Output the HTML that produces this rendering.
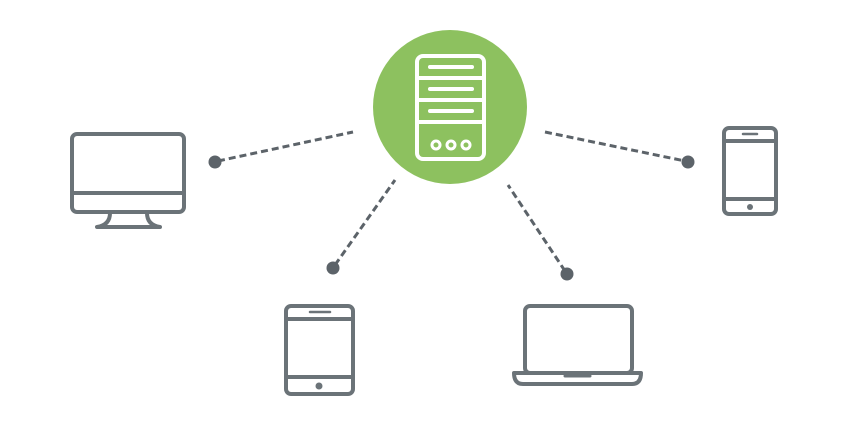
<!DOCTYPE html>
<html><head><style>body{margin:0;background:#fff}svg{display:block}</style></head><body>
<svg width="850" height="425" viewBox="0 0 850 425" xmlns="http://www.w3.org/2000/svg">
<g stroke="#5c6369" stroke-width="3" stroke-dasharray="7,4" fill="none">
<line x1="218" y1="161" x2="353" y2="132"/>
<line x1="335" y1="265" x2="395" y2="180"/>
<line x1="565" y1="271" x2="508" y2="185"/>
<line x1="545" y1="132" x2="685" y2="161"/>
</g>
<g fill="#5c6369">
<circle cx="215" cy="162" r="6.5"/><circle cx="333" cy="268" r="6.5"/>
<circle cx="567" cy="274" r="6.5"/><circle cx="688" cy="162" r="6.5"/>
</g>
<circle cx="450" cy="107" r="77" fill="#8dc15f"/>
<g stroke="#fff" stroke-width="4" fill="none" stroke-linecap="round">
<rect x="417" y="56" width="67" height="103" rx="6"/>
<line x1="419" y1="78" x2="482" y2="78"/><line x1="419" y1="100" x2="482" y2="100"/><line x1="419" y1="122" x2="482" y2="122"/>
<line x1="430" y1="67" x2="472" y2="67"/><line x1="430" y1="89" x2="472" y2="89"/><line x1="430" y1="111" x2="472" y2="111"/>
<circle cx="436" cy="145" r="4" stroke-width="3"/><circle cx="451" cy="145" r="4" stroke-width="3"/><circle cx="466" cy="145" r="4" stroke-width="3"/>
</g>
<g stroke="#6b7378" stroke-width="4" fill="none" stroke-linecap="round" stroke-linejoin="round">
<rect x="72" y="134" width="112" height="78" rx="5"/>
<line x1="72" y1="193" x2="184" y2="193"/>
<path d="M110 213 Q110 225 97 227 L160 227 Q147 225 147 213"/>
<rect x="286" y="306" width="67" height="88" rx="5"/>
<line x1="286" y1="319" x2="353" y2="319"/><line x1="286" y1="377" x2="353" y2="377"/>
<line x1="310" y1="312" x2="330" y2="312" stroke-width="2.5"/>
<rect x="525" y="306" width="107" height="67" rx="5"/>
<path d="M514 373 L641 373 Q641 384 632 384 L523 384 Q514 384 514 373 Z"/>
<line x1="565" y1="376" x2="590" y2="376" stroke-width="3"/>
<rect x="724" y="128" width="52" height="86" rx="5"/>
<line x1="724" y1="141" x2="776" y2="141"/><line x1="724" y1="199" x2="776" y2="199"/>
<line x1="743" y1="134" x2="757" y2="134" stroke-width="2.5"/>
</g>
<g fill="#6b7378"><circle cx="319" cy="386" r="3.5"/><circle cx="750" cy="207" r="3"/></g>
</svg>
</body></html>
